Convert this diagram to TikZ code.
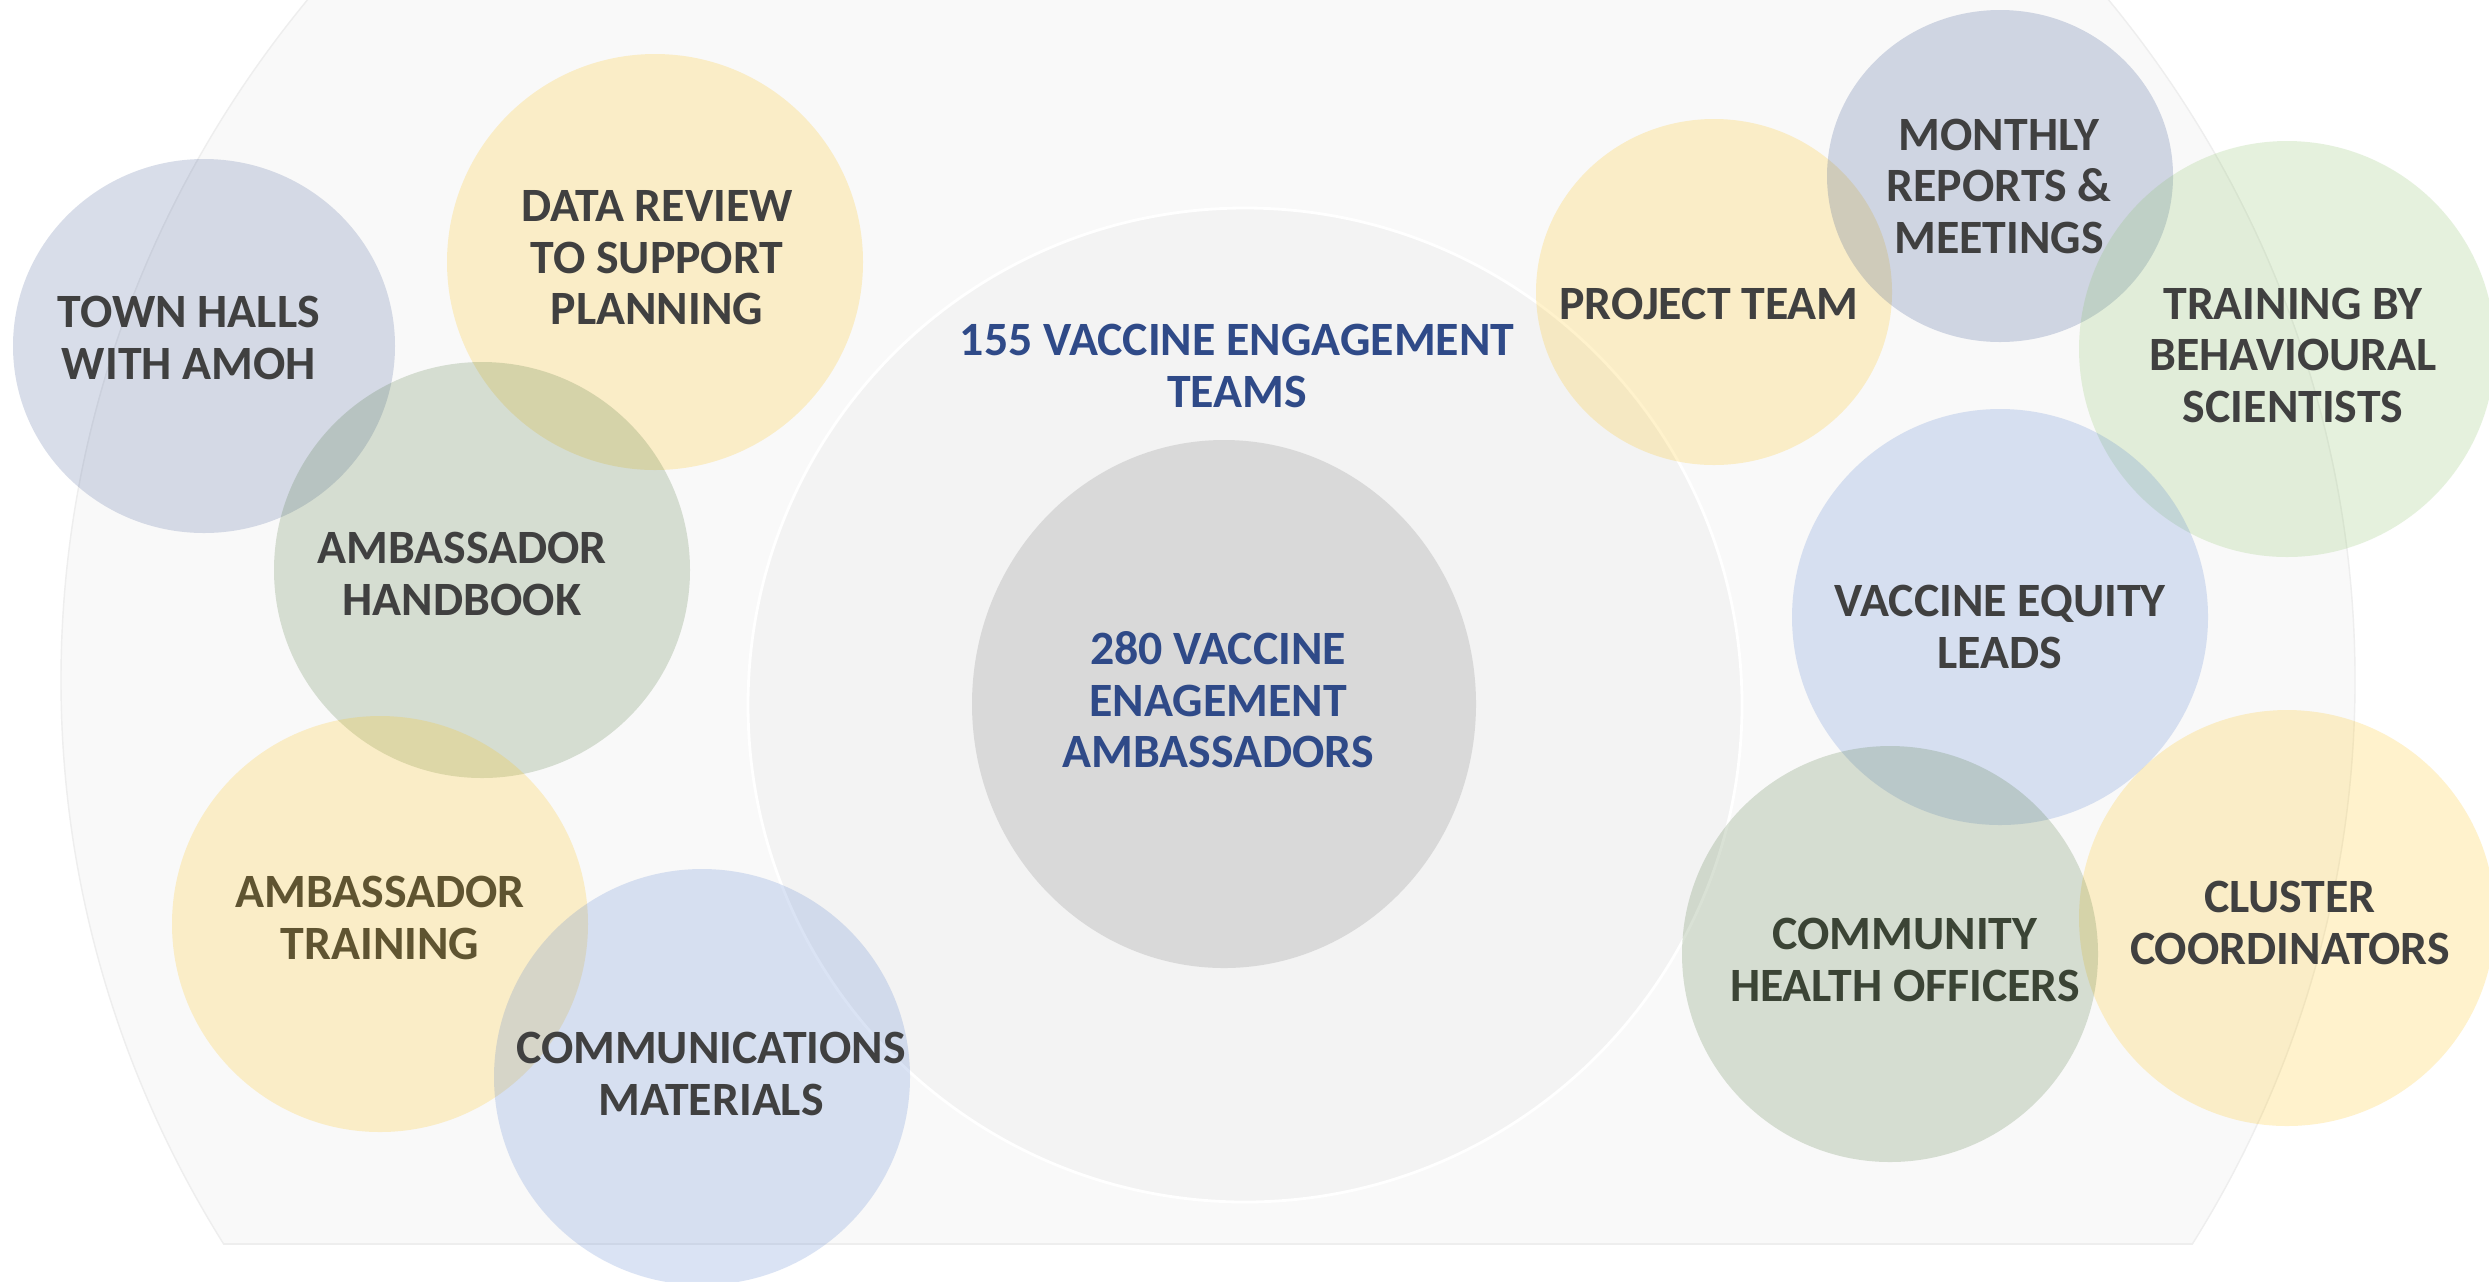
\documentclass[tikz,border=0pt]{standalone}
\usepackage{fontspec}
\setmainfont{Carlito}
\definecolor{ringgrey}{HTML}{F9F9F9}
\definecolor{ringline}{HTML}{EEEEEE}
\definecolor{teamgrey}{HTML}{F3F3F3}
\definecolor{ambgrey}{HTML}{D9D9D9}
\definecolor{gold}{HTML}{FFC000}
\definecolor{slateblue}{HTML}{405995}
\definecolor{navyblue}{HTML}{274586}
\definecolor{sagegreen}{HTML}{456D31}
\definecolor{skyblue}{HTML}{4A77CC}
\definecolor{leafgreen}{HTML}{81BD59}
\definecolor{labelgrey}{HTML}{404040}
\definecolor{olivetext}{HTML}{5F5431}
\definecolor{mosstext}{HTML}{3B4435}
\definecolor{teamblue}{HTML}{2F4A88}
\tikzset{%
    bubble/.style={fill=#1, fill opacity=0.2, draw=none},
    bubbletext/.style={%
        text=labelgrey, align=center,
        font={\fontsize{13.6}{14.65}\selectfont\bfseries}
    }
}

\begin{document}
\begin{tikzpicture}[x=0.01cm,y=-0.01cm]
    \clip (0,0) rectangle (2489,1281);
    \fill[white] (0,0) rectangle (2489,1281);
    % outer ring, cut flat at the bottom
    \begin{scope}
    \clip (0,0) rectangle (2489,1244);
    \draw[ringline,fill=ringgrey,line width=0.4pt] (1208,680) ellipse [x radius=1147, y radius=1098];
    \end{scope}
    \draw[ringline,line width=0.4pt] (224,1244)--(2192,1244);
    \draw[white,fill=teamgrey,line width=0.8pt] (1245,705) circle (497);
    \fill[ambgrey] (1224,704) ellipse [x radius=252, y radius=264];

    \fill[bubble=slateblue] (204,346) ellipse [x radius=191, y radius=187];
    \fill[bubble=gold] (655,262) circle (208);
    \fill[bubble=sagegreen] (482,570) circle (208);
    \fill[bubble=gold] (380,924) circle (208);
    \fill[bubble=skyblue] (702,1077) circle (208);
    \fill[bubble=gold] (1714,292) ellipse [x radius=178, y radius=173];
    \fill[bubble=navyblue] (2000,176) ellipse [x radius=173, y radius=166];
    \fill[bubble=leafgreen] (2287,349) circle (208);
    \fill[bubble=skyblue] (2000,617) circle (208);
    \fill[bubble=gold] (2287,918) circle (208);
    \fill[bubble=sagegreen] (1890,954) circle (208);

    \node[bubbletext] (townhalls) at (189,338) {TOWN HALLS\\WITH AMOH};
    \node[bubbletext] (datareview) at (657,258) {DATA REVIEW\\TO SUPPORT\\PLANNING};
    \node[bubbletext] (handbook) at (462,574) {AMBASSADOR\\HANDBOOK};
    \node[bubbletext,text=olivetext] (ambtraining) at (380,918) {AMBASSADOR\\TRAINING};
    \node[bubbletext] (commsmat) at (711,1074) {COMMUNICATIONS\\MATERIALS};
    \node[bubbletext] (projteam) at (1709,304) {PROJECT TEAM};
    \node[bubbletext] (monthly) at (1999,186) {MONTHLY\\REPORTS \&\\MEETINGS};
    \node[bubbletext] (behavsci) at (2293,355) {TRAINING BY\\BEHAVIOURAL\\SCIENTISTS};
    \node[bubbletext] (equity) at (2000,627) {VACCINE EQUITY\\LEADS};
    \node[bubbletext] (cluster) at (2290,923) {CLUSTER\\COORDINATORS};
    \node[bubbletext,text=mosstext] (cho) at (1905,960) {COMMUNITY\\HEALTH OFFICERS};

    \node[bubbletext,text=teamblue] (teams) at (1237,366) {155 VACCINE ENGAGEMENT\\TEAMS};
    \node[bubbletext,text=teamblue] (ambassadors) at (1218,700) {280 VACCINE\\ENAGEMENT\\AMBASSADORS};
\end{tikzpicture}
\end{document}
